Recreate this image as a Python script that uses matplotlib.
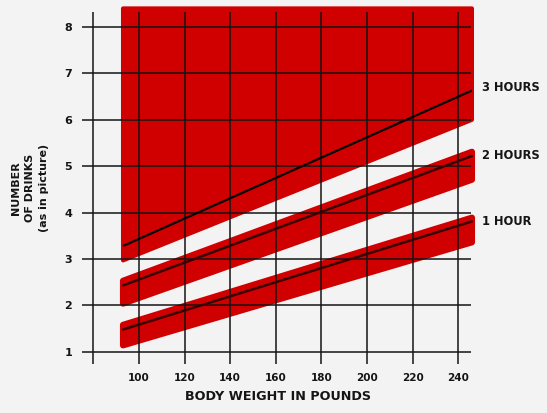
import matplotlib
matplotlib.use("Agg")
import matplotlib.pyplot as plt
from matplotlib.patches import Polygon

# ---- data ----
weights = [100, 120, 140, 160, 180, 200, 220, 240]
drinks = [1, 2, 3, 4, 5, 6, 7, 8]

band_x = [93, 246]            # left / right end of the bands (pounds)
h3_top = [8.4, 8.4]
h3_bottom = [2.97, 6.0]
h3_line = [3.28, 6.63]
h2_top = [2.53, 5.31]
h2_bottom = [2.04, 4.71]
h2_line = [2.43, 5.22]
h1_top = [1.58, 3.89]
h1_bottom = [1.14, 3.36]
h1_line = [1.48, 3.81]

hour_labels = ["3 HOURS", "2 HOURS", "1 HOUR"]
hour_label_y = [6.71, 5.26, 3.82]

x_title = "BODY WEIGHT IN POUNDS"
y_title = "NUMBER\nOF DRINKS\n(as in picture)"

# ---- style ----
BG = "#f3f3f3"
RED = "#d00000"
INK = "#151515"

fig = plt.figure(figsize=(5.47, 4.14), dpi=100, facecolor=BG)
ax = fig.add_axes([0.1291, 0.0918, 0.7503, 0.9078])
ax.set_facecolor(BG)
ax.set_xlim(70, 250)
ax.set_ylim(0.5, 8.6)
ax.axis("off")

def band(top, bottom, lw):
    pts = [(band_x[0], bottom[0]), (band_x[1], bottom[1]),
           (band_x[1], top[1]), (band_x[0], top[0])]
    p = Polygon(pts, closed=True, facecolor=RED, edgecolor=RED,
                linewidth=lw, joinstyle="round", zorder=1)
    ax.add_patch(p)

band(h3_top, h3_bottom, 3)
band(h2_top, h2_bottom, 4.5)
band(h1_top, h1_bottom, 4.5)

# grid lines extending past the axes
ax.hlines(drinks, 75.2, 245.5, color=INK, linewidth=1.1, zorder=2, clip_on=False)
ax.vlines([80] + weights, 0.74, 8.32, color=INK, linewidth=1.1, zorder=2, clip_on=False)

# hour lines
ax.plot(band_x, h3_line, color="#0a0000", linewidth=1.6, zorder=3, solid_capstyle="butt")
ax.plot(band_x, h2_line, color="#3a0000", linewidth=1.8, zorder=3, solid_capstyle="round")
ax.plot(band_x, h1_line, color="#3a0000", linewidth=1.8, zorder=3, solid_capstyle="round")

# tick labels
for d in drinks:
    ax.text(68.9, d, str(d), ha="center", va="center", fontsize=8,
            fontweight="bold", color=INK, clip_on=False)
for w in weights:
    ax.text(w, 0.46, str(w), ha="center", va="center", fontsize=7.5,
            fontweight="bold", color=INK, clip_on=False)

for lab, yv in zip(hour_labels, hour_label_y):
    ax.text(250.4, yv, lab, ha="left", va="center", fontsize=8.3,
            fontweight="bold", color=INK, clip_on=False)

ax.text(160.8, 0.06, x_title, ha="center", va="center", fontsize=9.2,
        fontweight="bold", color=INK, clip_on=False)
ax.text(52.2, 4.55, y_title, ha="center", va="center", rotation=90,
        fontsize=8, fontweight="bold", color=INK, linespacing=1.55,
        multialignment="center", clip_on=False)

fig.savefig("out.png", dpi=100, facecolor=BG)
